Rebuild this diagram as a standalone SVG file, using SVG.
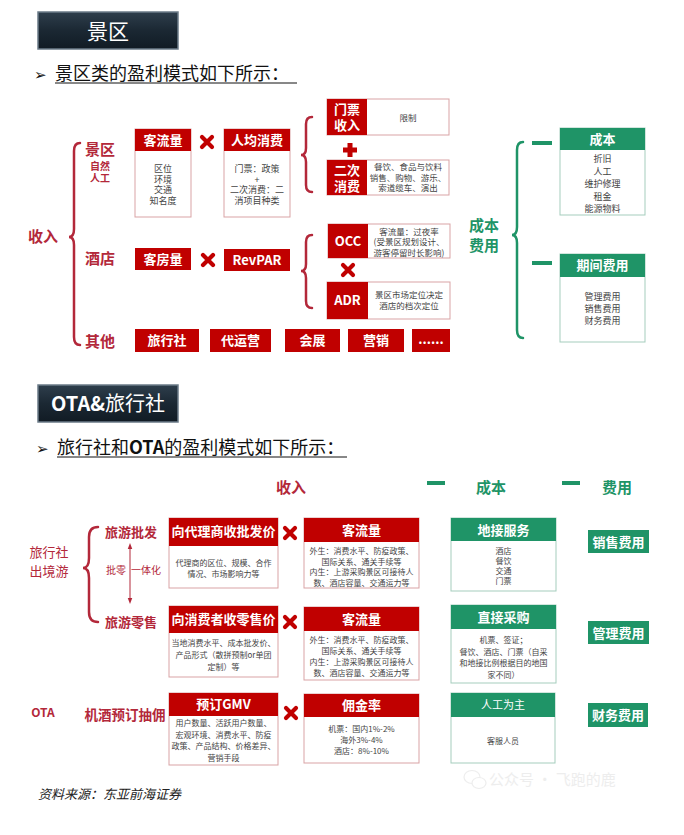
<svg xmlns="http://www.w3.org/2000/svg" width="684" height="835" viewBox="0 0 684 835">
<defs>
<style>
text{font-family:"Noto Sans CJK SC","Liberation Sans","DejaVu Sans",sans-serif}
.rh{fill:#c00000}
.rb{fill:#fff;stroke:#d9a3a5;stroke-width:1}
.gh{fill:#1f9467}
.gb{fill:#fff;stroke:#a5cdbd;stroke-width:1}
.wt{fill:#fff;font-weight:bold;text-anchor:middle;font-size:13px}
.bt{fill:#444;font-size:9px;text-anchor:middle}
.rt{fill:#444;font-size:8.5px;text-anchor:middle}
.st{fill:#444;font-size:8px;text-anchor:middle}
.lab{fill:#b3283a;font-weight:bold}
.glab{fill:#1f9467;font-weight:bold;text-anchor:middle}
.brR{fill:none;stroke:#b3283a;stroke-width:2.5;stroke-linecap:round}
.brG{fill:none;stroke:#1f9467;stroke-width:2.5;stroke-linecap:round}
.hdr{fill:url(#hg);stroke:#6b7b88;stroke-width:1.5}
</style>
<linearGradient id="hg" x1="0" y1="0" x2="0" y2="1">
<stop offset="0" stop-color="#2e3e4c"/>
<stop offset="0.5" stop-color="#1b2833"/>
<stop offset="1" stop-color="#111b24"/>
</linearGradient>
<g id="times"><path d="M-5,-5 L5,5 M5,-5 L-5,5" stroke="#c00000" stroke-width="4.2" stroke-linecap="round"/></g>
<marker id="ah" viewBox="0 0 8 8" refX="4" refY="4" markerWidth="6" markerHeight="6" orient="auto-start-reverse"><path d="M0,1 L8,4 L0,7 Z" fill="#b3283a"/></marker>
</defs>
<rect width="684" height="835" fill="#fff"/>

<g id="hdr1">
<rect class="hdr" x="38" y="12" width="140" height="37"/>
<text x="108" y="39" font-size="21" fill="#fff" text-anchor="middle">景区</text>
</g>
<g id="title1">
<text x="34" y="80" font-size="15" fill="#111">➢</text>
<text x="55" y="80" font-size="18" fill="#111">景区类的盈利模式如下所示：</text>
<line x1="55" y1="83" x2="297" y2="83" stroke="#111" stroke-width="1"/>
</g>

<g id="connectors">
<path class="brR" d="M80,143 Q74,143 74,151 L74,229 Q74,237 69,237 Q74,237 74,245 L74,337 Q74,345 80,345"/>
<path class="brR" d="M312,117 Q306,117 306,124 L306,148 Q306,155 301,155 Q306,155 306,162 L306,185 Q306,192 312,192"/>
<path class="brR" d="M312,235 Q306,235 306,242 L306,264 Q306,271 301,271 Q306,271 306,278 L306,301 Q306,308 312,308"/>
<path class="brG" d="M523,142 Q517,142 517,150 L517,227 Q517,235 512,235 Q517,235 517,243 L517,330 Q517,338 523,338"/>
<rect x="532" y="141" width="20" height="4" fill="#1f9467"/>
<rect x="532" y="261" width="20" height="4" fill="#1f9467"/>
<path class="brR" d="M98,527 Q89,527 89,537 L89,558 Q89,568 83,568 Q89,568 89,578 L89,612 Q89,622 98,622"/>
<line x1="130" y1="546" x2="130" y2="601" stroke="#b3283a" stroke-width="1" marker-start="url(#ah)" marker-end="url(#ah)"/>
<use href="#times" x="207" y="142"/>
<use href="#times" x="208" y="260"/>
<use href="#times" x="348" y="270"/>
<use href="#times" x="290" y="533"/>
<use href="#times" x="290" y="622"/>
<use href="#times" x="291" y="713"/>
<rect x="343" y="147.5" width="14" height="5" fill="#c00000"/>
<rect x="347.5" y="143" width="5" height="14" fill="#c00000"/>
<rect x="427" y="481" width="18" height="4" fill="#1f9467"/>
<rect x="562" y="481" width="18" height="4" fill="#1f9467"/>
</g>

<g id="lbl-income"><text class="lab" x="43" y="242" font-size="15" text-anchor="middle">收入</text></g>
<g id="lbl-scenic">
<text class="lab" x="100" y="155" font-size="15" text-anchor="middle">景区</text>
<text x="100" y="170" font-size="10" fill="#b3283a" text-anchor="middle" font-weight="bold">自然</text>
<text x="100" y="182" font-size="10" fill="#b3283a" text-anchor="middle" font-weight="bold">人工</text>
</g>
<g id="lbl-hotel"><text class="lab" x="100" y="264" font-size="15" text-anchor="middle">酒店</text></g>
<g id="lbl-other"><text class="lab" x="100" y="347" font-size="15" text-anchor="middle">其他</text></g>

<g id="n-keliu1">
<rect class="rb" x="135" y="129" width="56" height="88"/>
<rect class="rh" x="135" y="129" width="56" height="22"/>
<text class="wt" x="163" y="145">客流量</text>
<text class="bt" x="163" y="172">区位</text>
<text class="bt" x="163" y="182.5">环境</text>
<text class="bt" x="163" y="193">交通</text>
<text class="bt" x="163" y="203.5">知名度</text>
</g>
<g id="n-renjun">
<rect class="rb" x="224" y="129" width="66" height="88"/>
<rect class="rh" x="224" y="129" width="66" height="22"/>
<text class="wt" x="257" y="145">人均消费</text>
<text class="bt" x="257" y="172">门票：政策</text>
<text class="bt" x="257" y="182.5">+</text>
<text class="bt" x="257" y="193">二次消费：二</text>
<text class="bt" x="257" y="203.5">消项目种类</text>
</g>
<g id="n-kefang">
<rect class="rh" x="135" y="248" width="56" height="22"/>
<text class="wt" x="163" y="264">客房量</text>
</g>
<g id="n-revpar">
<rect class="rh" x="224" y="249" width="66" height="22"/>
<text class="wt" x="257" y="265">RevPAR</text>
</g>
<g id="n-menpiao">
<rect class="rb" x="327" y="99" width="122" height="36"/>
<rect class="rh" x="327" y="99" width="40" height="36"/>
<text class="wt" x="347" y="114">门票</text>
<text class="wt" x="347" y="130">收入</text>
<text class="rt" x="408" y="121">限制</text>
</g>
<g id="n-erci">
<rect class="rb" x="327" y="160" width="122" height="35"/>
<rect class="rh" x="327" y="160" width="40" height="35"/>
<text class="wt" x="347" y="175">二次</text>
<text class="wt" x="347" y="191">消费</text>
<text class="rt" x="408" y="170">餐饮、食品与饮料</text>
<text class="rt" x="408" y="180.5">销售、购物、游乐、</text>
<text class="rt" x="408" y="191">索道缆车、演出</text>
</g>
<g id="n-occ">
<rect class="rb" x="328" y="224" width="122" height="34"/>
<rect class="rh" x="328" y="224" width="40" height="34"/>
<text class="wt" x="348" y="246" font-size="14">OCC</text>
<text class="rt" x="409" y="234.5">客流量：过夜率</text>
<text class="rt" x="409" y="245">(受景区规划设计、</text>
<text class="rt" x="409" y="255.5">游客停留时长影响)</text>
</g>
<g id="n-adr">
<rect class="rb" x="327" y="282" width="123" height="37"/>
<rect class="rh" x="327" y="282" width="41" height="37"/>
<text class="wt" x="347.5" y="305" font-size="14">ADR</text>
<text class="rt" x="409" y="298">景区市场定位决定</text>
<text class="rt" x="409" y="309">酒店的档次定位</text>
</g>
<g id="n-lxs"><rect class="rh" x="135" y="329" width="64" height="23"/><text class="wt" x="167" y="345">旅行社</text></g>
<g id="n-dyy"><rect class="rh" x="210" y="329" width="61" height="23"/><text class="wt" x="240.5" y="345">代运营</text></g>
<g id="n-hz"><rect class="rh" x="285" y="329" width="55" height="23"/><text class="wt" x="312.5" y="345">会展</text></g>
<g id="n-yx"><rect class="rh" x="348" y="329" width="56" height="23"/><text class="wt" x="376" y="345">营销</text></g>
<g id="n-etc"><rect class="rh" x="412" y="329" width="38" height="23"/><text class="wt" x="431" y="344" font-size="11">......</text></g>

<g id="lbl-cost">
<text class="glab" x="484" y="231" font-size="15">成本</text>
<text class="glab" x="484" y="251" font-size="15">费用</text>
</g>
<g id="n-chengben">
<rect class="gb" x="560" y="128" width="85" height="87"/>
<rect class="gh" x="560" y="128" width="85" height="22"/>
<text class="wt" x="602.5" y="144">成本</text>
<text class="bt" x="602.5" y="162" font-size="10">折旧</text>
<text class="bt" x="602.5" y="174.5" font-size="10">人工</text>
<text class="bt" x="602.5" y="187" font-size="10">维护修理</text>
<text class="bt" x="602.5" y="199.5" font-size="10">租金</text>
<text class="bt" x="602.5" y="212" font-size="10">能源物料</text>
</g>
<g id="n-qijian">
<rect class="gb" x="560" y="254" width="85" height="88"/>
<rect class="gh" x="560" y="254" width="85" height="23"/>
<text class="wt" x="602.5" y="270">期间费用</text>
<text class="bt" x="602.5" y="300" font-size="10">管理费用</text>
<text class="bt" x="602.5" y="312" font-size="10">销售费用</text>
<text class="bt" x="602.5" y="324" font-size="10">财务费用</text>
</g>

<g id="hdr2">
<rect class="hdr" x="38" y="385" width="140" height="37"/>
<text x="108" y="411" font-size="20" fill="#fff" text-anchor="middle"><tspan font-weight="bold">OTA&amp;</tspan>旅行社</text>
</g>
<g id="title2">
<text x="36" y="454" font-size="15" fill="#111">➢</text>
<text x="57" y="454" font-size="18" fill="#111">旅行社和<tspan font-weight="bold">OTA</tspan>的盈利模式如下所示：</text>
<line x1="57" y1="457" x2="347" y2="457" stroke="#111" stroke-width="1"/>
</g>
<g id="col-heads">
<text class="lab" x="291" y="493" font-size="15" text-anchor="middle">收入</text>
<text class="glab" x="491" y="493" font-size="15">成本</text>
<text class="glab" x="617" y="493" font-size="15">费用</text>
</g>
<g id="lbl-lxs">
<text x="49" y="557" font-size="13" fill="#b3283a" text-anchor="middle">旅行社</text>
<text x="49" y="576" font-size="13" fill="#b3283a" text-anchor="middle">出境游</text>
</g>
<g id="lbl-pifa"><text class="lab" x="131" y="537" font-size="13" text-anchor="middle">旅游批发</text></g>
<g id="lbl-pl">
<text x="116" y="574" font-size="10" fill="#b3283a" text-anchor="middle">批零</text>
<text x="146" y="574" font-size="10" fill="#b3283a" text-anchor="middle">一体化</text>
</g>
<g id="lbl-lingshou"><text class="lab" x="131" y="627" font-size="13" text-anchor="middle">旅游零售</text></g>
<g id="lbl-ota"><text class="lab" x="43" y="717" font-size="12" text-anchor="middle">OTA</text></g>
<g id="lbl-jijiu"><text class="lab" x="125" y="720" font-size="13.5" text-anchor="middle">机酒预订抽佣</text></g>

<g id="n-pifajia">
<rect class="rb" x="169" y="518" width="109" height="70"/>
<rect class="rh" x="169" y="518" width="109" height="28"/>
<text class="wt" x="223.5" y="536" font-size="11">向代理商收批发价</text>
<text class="st" x="223.5" y="566">代理商的区位、规模、合作</text>
<text class="st" x="223.5" y="577">情况、市场影响力等</text>
</g>
<g id="n-keliu2">
<rect class="rb" x="304" y="518" width="115" height="70"/>
<rect class="rh" x="304" y="518" width="115" height="24"/>
<text class="wt" x="361.5" y="535" font-size="12">客流量</text>
<text class="st" x="361.5" y="554">外生：消费水平、防疫政策、</text>
<text class="st" x="361.5" y="564.5">国际关系、通关手续等</text>
<text class="st" x="361.5" y="575">内生：上游采购景区可接待人</text>
<text class="st" x="361.5" y="585.5">数、酒店容量、交通运力等</text>
</g>
<g id="n-dijie">
<rect class="gb" x="451" y="518" width="105" height="73"/>
<rect class="gh" x="451" y="518" width="105" height="23"/>
<text class="wt" x="503.5" y="534.5" font-size="12">地接服务</text>
<text class="st" x="503.5" y="554">酒店</text>
<text class="st" x="503.5" y="564">餐饮</text>
<text class="st" x="503.5" y="574">交通</text>
<text class="st" x="503.5" y="584">门票</text>
</g>
<g id="n-xiaoshou">
<rect class="gh" x="588" y="530" width="61" height="23"/>
<text class="wt" x="618.5" y="546.5">销售费用</text>
</g>

<g id="n-lingshoujia">
<rect class="rb" x="169" y="606" width="109" height="71"/>
<rect class="rh" x="169" y="606" width="109" height="27"/>
<text class="wt" x="223.5" y="624" font-size="11">向消费者收零售价</text>
<text class="st" x="223.5" y="646">当地消费水平、成本批发价、</text>
<text class="st" x="223.5" y="658">产品形式（散拼预制or单团</text>
<text class="st" x="223.5" y="670">定制）等</text>
</g>
<g id="n-keliu3">
<rect class="rb" x="304" y="607" width="115" height="73"/>
<rect class="rh" x="304" y="607" width="115" height="24"/>
<text class="wt" x="361.5" y="624" font-size="12">客流量</text>
<text class="st" x="361.5" y="643">外生：消费水平、防疫政策、</text>
<text class="st" x="361.5" y="654">国际关系、通关手续等</text>
<text class="st" x="361.5" y="665">内生：上游采购景区可接待人</text>
<text class="st" x="361.5" y="676">数、酒店容量、交通运力等</text>
</g>
<g id="n-caigou">
<rect class="gb" x="451" y="605" width="105" height="78"/>
<rect class="gh" x="451" y="605" width="105" height="24"/>
<text class="wt" x="503.5" y="622" font-size="12">直接采购</text>
<text class="st" x="503.5" y="643">机票、签证；</text>
<text class="st" x="503.5" y="655">餐饮、酒店、门票（自采</text>
<text class="st" x="503.5" y="666">和地接比例根据目的地国</text>
<text class="st" x="503.5" y="678">家不同）</text>
</g>
<g id="n-guanli">
<rect class="gh" x="588" y="621" width="61" height="23"/>
<text class="wt" x="618.5" y="637.5">管理费用</text>
</g>

<g id="n-gmv">
<rect class="rb" x="169" y="693" width="109" height="72"/>
<rect class="rh" x="169" y="693" width="109" height="23"/>
<text class="wt" x="223.5" y="709" font-size="12">预订GMV</text>
<text class="st" x="223.5" y="726">用户数量、活跃用户数量、</text>
<text class="st" x="223.5" y="737.5">宏观环境、消费水平、防疫</text>
<text class="st" x="223.5" y="749">政策、产品结构、价格差异、</text>
<text class="st" x="223.5" y="760.5">营销手段</text>
</g>
<g id="n-yongjin">
<rect class="rb" x="304" y="694" width="115" height="69"/>
<rect class="rh" x="304" y="694" width="115" height="23"/>
<text class="wt" x="361.5" y="710" font-size="12">佣金率</text>
<text class="st" x="361.5" y="732" font-size="8.5">机票：国内1%-2%</text>
<text class="st" x="361.5" y="743" font-size="8.5">海外3%-4%</text>
<text class="st" x="361.5" y="754" font-size="8.5">酒店：8%-10%</text>
</g>
<g id="n-rengong">
<rect class="gb" x="451" y="693" width="104" height="70"/>
<rect class="gh" x="451" y="693" width="104" height="24"/>
<text x="503" y="709" font-size="11" fill="#fff" text-anchor="middle">人工为主</text>
<text class="st" x="503" y="744" font-size="8.5">客服人员</text>
</g>
<g id="n-caiwu">
<rect class="gh" x="588" y="703" width="60" height="24"/>
<text class="wt" x="618" y="720">财务费用</text>
</g>

<g id="source">
<text x="38" y="799" font-size="13" fill="#222" font-style="italic">资料来源：东亚前海证券</text>
</g>
<g id="watermark" opacity="0.5">
<ellipse cx="472" cy="777" rx="8" ry="6.5" fill="none" stroke="#ddd" stroke-width="1.2"/>
<ellipse cx="479" cy="783" rx="7" ry="5.5" fill="#fff" stroke="#ddd" stroke-width="1.2"/>
<text x="489" y="785" font-size="15" fill="#ddd">公众号 · 飞跑的鹿</text>
</g>
</svg>
